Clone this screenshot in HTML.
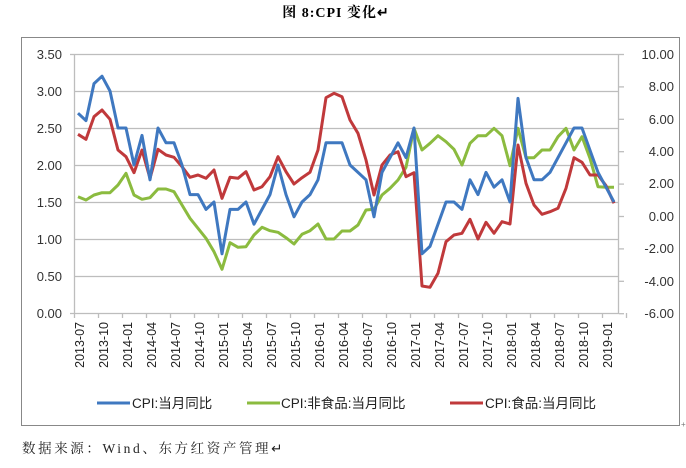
<!DOCTYPE html>
<html><head><meta charset="utf-8"><style>
body{margin:0;background:#fff;width:686px;height:463px;overflow:hidden}
svg text{font-family:"Liberation Sans","Noto Sans CJK SC",sans-serif}
</style></head><body>
<svg width="686" height="463" viewBox="0 0 686 463" xmlns="http://www.w3.org/2000/svg">
<text x="336" y="17" text-anchor="middle" font-size="14" font-weight="bold" letter-spacing="1" style="font-family:'Liberation Serif','Noto Serif CJK SC',serif">图 8:CPI 变化↵</text>
<rect x="21.5" y="37.5" width="658" height="388" fill="none" stroke="#888" stroke-width="1"/>
<g stroke="#bdbdbd" stroke-width="1.3">
<line x1="75" x2="619" y1="54.5" y2="54.5"/><line x1="75" x2="619" y1="91.5" y2="91.5"/>
<line x1="75" x2="619" y1="128.5" y2="128.5"/><line x1="75" x2="619" y1="165.5" y2="165.5"/>
<line x1="75" x2="619" y1="202.5" y2="202.5"/><line x1="75" x2="619" y1="239.5" y2="239.5"/>
<line x1="75" x2="619" y1="276.5" y2="276.5"/><line x1="70" x2="619" y1="313.5" y2="313.5"/>
<line x1="70" x2="75" y1="54.5" y2="54.5"/>
<line x1="74.5" x2="74.5" y1="54" y2="313"/>
<line x1="618.5" x2="618.5" y1="54" y2="313"/>
</g>
<g id="ticks" stroke="#bdbdbd" stroke-width="1.3"></g>
<g font-size="13" fill="#333" text-anchor="end">
<text x="62" y="59">3.50</text><text x="62" y="96">3.00</text><text x="62" y="133">2.50</text><text x="62" y="170">2.00</text>
<text x="62" y="207">1.50</text><text x="62" y="244">1.00</text><text x="62" y="281">0.50</text><text x="62" y="318">0.00</text>
</g>
<g font-size="13" fill="#333" text-anchor="end">
<text x="674" y="59">10.00</text><text x="674" y="91">8.00</text><text x="674" y="124">6.00</text><text x="674" y="156">4.00</text>
<text x="674" y="188">2.00</text><text x="674" y="221">0.00</text><text x="674" y="253">-2.00</text><text x="674" y="286">-4.00</text><text x="674" y="318">-6.00</text>
</g>
<g font-size="12.5" fill="#222" text-anchor="end">
<text transform="translate(84,322) rotate(-90)">2013-07</text>
<text transform="translate(108,322) rotate(-90)">2013-10</text>
<text transform="translate(132,322) rotate(-90)">2014-01</text>
<text transform="translate(156,322) rotate(-90)">2014-04</text>
<text transform="translate(180,322) rotate(-90)">2014-07</text>
<text transform="translate(204,322) rotate(-90)">2014-10</text>
<text transform="translate(228,322) rotate(-90)">2015-01</text>
<text transform="translate(252,322) rotate(-90)">2015-04</text>
<text transform="translate(276,322) rotate(-90)">2015-07</text>
<text transform="translate(300,322) rotate(-90)">2015-10</text>
<text transform="translate(324,322) rotate(-90)">2016-01</text>
<text transform="translate(348,322) rotate(-90)">2016-04</text>
<text transform="translate(372,322) rotate(-90)">2016-07</text>
<text transform="translate(396,322) rotate(-90)">2016-10</text>
<text transform="translate(420,322) rotate(-90)">2017-01</text>
<text transform="translate(444,322) rotate(-90)">2017-04</text>
<text transform="translate(468,322) rotate(-90)">2017-07</text>
<text transform="translate(492,322) rotate(-90)">2017-10</text>
<text transform="translate(516,322) rotate(-90)">2018-01</text>
<text transform="translate(540,322) rotate(-90)">2018-04</text>
<text transform="translate(564,322) rotate(-90)">2018-07</text>
<text transform="translate(588,322) rotate(-90)">2018-10</text>
<text transform="translate(612,322) rotate(-90)">2019-01</text>
</g>
<polyline id="green" fill="none" stroke="#8bbb3f" stroke-width="3" stroke-linejoin="round"/>
<polyline id="red" fill="none" stroke="#c0393b" stroke-width="3" stroke-linejoin="round"/>
<polyline id="blue" fill="none" stroke="#3f78c0" stroke-width="3" stroke-linejoin="round"/>
<g font-size="13.5" fill="#222">
<line x1="97" x2="130" y1="403" y2="403" stroke="#3f78c0" stroke-width="3"/>
<text x="132" y="408">CPI:当月同比</text>
<line x1="247" x2="280" y1="403" y2="403" stroke="#8bbb3f" stroke-width="3"/>
<text x="281" y="408">CPI:非食品:当月同比</text>
<line x1="450" x2="483" y1="403" y2="403" stroke="#c0393b" stroke-width="3"/>
<text x="485" y="408">CPI:食品:当月同比</text>
</g>
<text x="681" y="427" font-size="8" fill="#777">+</text>
<text x="22" y="453" font-size="13.5" fill="#222" letter-spacing="2.6" style="font-family:'Liberation Serif','Noto Serif CJK SC',serif">数据来源：Wind、东方红资产管理↵</text>
</svg>
<script>
var cpi=[2.7,2.6,3.1,3.2,3.0,2.5,2.5,2.0,2.4,1.8,2.5,2.3,2.3,2.0,1.6,1.6,1.4,1.5,0.8,1.4,1.4,1.5,1.2,1.4,1.6,2.0,1.6,1.3,1.5,1.6,1.8,2.3,2.3,2.3,2.0,1.9,1.8,1.3,1.9,2.1,2.3,2.1,2.5,0.8,0.9,1.2,1.5,1.5,1.4,1.8,1.6,1.9,1.7,1.8,1.5,2.9,2.1,1.8,1.8,1.9,2.1,2.3,2.5,2.5,2.2,1.9,1.7,1.5];
var g1=[470,480,465,458,458,435,400,465,478,473,447,447,455,495,535,565,595,635,688,608,622,620,585,562,572,577,593,612,583,572,552,597,597,573,573];
var g2=[555,510,508,465,445,420,382,265,330,310,287,305,328,375,310,287,287,265,287,377,265,353,353,330,330,290,265,330,290,355,440,442,442];
var r1=[283,298,230,210,238,330,350,398,330,415,328,345,352,380,412,405,415,390,475,412,415,395,450,440,410,350,395,432,413,397,330,173,160,170,240];
var r2=[280,360,465,375,345,335,410,398,738,742,700,605,585,580,538,597,547,580,545,552,315,430,495,523,515,505,445,353,367,405,405,437,490];
function X(i){return 78+8*i;}
var b=cpi.map(function(v,i){return X(i)+","+(313-74*v).toFixed(1);}).join(" ");
var gp=g1.map(function(z,i){return X(i)+","+(z/3+40).toFixed(1);}).concat(g2.map(function(z,i){return X(i+35)+","+(z/3+40).toFixed(1);})).join(" ");
var rp=r1.map(function(z,i){return X(i)+","+(z/3+40).toFixed(1);}).concat(r2.map(function(z,i){return X(i+35)+","+(z/3+40).toFixed(1);})).join(" ");
document.getElementById("blue").setAttribute("points",b);
document.getElementById("green").setAttribute("points",gp);
document.getElementById("red").setAttribute("points",rp);
var t="";for(var k=0;k<=23;k++){var x=74.5+24*k;t+='<line x1="'+x+'" x2="'+x+'" y1="313" y2="318"/>';}
for(var j=0;j<9;j++){var y=54.5+32.4*j;t+='<line x1="619" x2="624" y1="'+y+'" y2="'+y+'"/>';}
document.getElementById("ticks").innerHTML=t;
</script>
</body></html>
